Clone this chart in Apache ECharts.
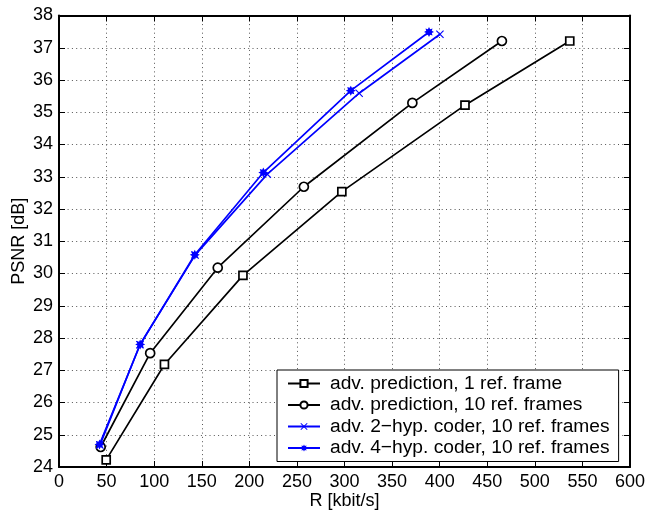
<!DOCTYPE html>
<html>
<head>
<meta charset="utf-8">
<script src="https://cdn.jsdelivr.net/npm/echarts@6/dist/echarts.min.js"></script>
<style>
  html, body { margin: 0; padding: 0; background: #fff; }
  #chart { width: 661px; height: 512px; }
</style>
</head>
<body>
<div id="chart"></div>
<script>
// Rate-distortion curves: PSNR versus bit rate
const seriesNames = [
  'adv. prediction, 1 ref. frame',
  'adv. prediction, 10 ref. frames',
  'adv. 2\u2212hyp. coder, 10 ref. frames',
  'adv. 4\u2212hyp. coder, 10 ref. frames'
];

const rate1Ref = [49.6, 110.8, 193.3, 297.2, 426.6, 536.7];
const psnr1Ref = [24.22, 27.18, 29.94, 32.54, 35.22, 37.21];

const rate10Ref = [43.8, 95.8, 166.8, 257.3, 371.3, 465.4];
const psnr10Ref = [24.62, 27.53, 30.18, 32.69, 35.29, 37.21];

const rate2Hyp = [43.0, 85.0, 143.0, 218.9, 315.4, 400.3];
const psnr2Hyp = [24.68, 27.79, 30.57, 33.08, 35.59, 37.42];

const rate4Hyp = [42.6, 85.3, 142.7, 214.7, 306.6, 388.8];
const psnr4Hyp = [24.70, 27.80, 30.58, 33.13, 35.67, 37.49];

const xTicks = { min: 0, max: 600, interval: 50 };
const yTicks = { min: 24, max: 38, interval: 1 };

const pairs = (xs, ys) => xs.map((x, i) => [x, ys[i]]);

const FONT = '"Liberation Sans", Arial, Helvetica, sans-serif';
const BLUE = '#0000ff';
const BLACK = '#000000';

const crossPath = 'path://M0,1L1,0L5,4L9,0L10,1L6,5L10,9L9,10L5,6L1,10L0,9L4,5Z';
const starPath = 'path://M10,5L7.77,6.15L8.54,8.54L6.15,7.77L5,10L3.85,7.77L1.46,8.54L2.23,6.15L0,5L2.23,3.85L1.46,1.46L3.85,2.23L5,0L6.15,2.23L8.54,1.46L7.77,3.85Z';

const gridLine = { show: true, lineStyle: { color: '#555', width: 1, type: [1, 3.3] } };
const frameLine = { show: true, onZero: false, lineStyle: { color: BLACK, width: 2 } };
const innerTick = { show: true, inside: true, length: 6, lineStyle: { color: BLACK, width: 1 } };

function makeSeries(name, data, color, symbol, size, hollow) {
  return {
    name: name,
    type: 'line',
    data: data,
    symbol: symbol,
    symbolSize: size,
    showSymbol: true,
    lineStyle: { color: color, width: 1.7 },
    itemStyle: hollow
      ? { color: '#ffffff', borderColor: color, borderWidth: 1.7 }
      : { color: color, borderColor: color, borderWidth: 0 },
    animation: false,
    z: 3
  };
}

const chart = echarts.init(document.getElementById('chart'), null, { renderer: 'canvas' });

chart.setOption({
  backgroundColor: '#ffffff',
  animation: false,
  grid: {
    left: 59, right: 31, top: 15.5, bottom: 45,
    containLabel: false,
    outerBoundsMode: 'none'
  },
  xAxis: [
    {
      type: 'value',
      min: xTicks.min, max: xTicks.max, interval: xTicks.interval,
      name: 'R [kbit/s]',
      nameLocation: 'middle',
      nameGap: 25,
      nameMoveOverlap: false,
      nameTextStyle: { fontFamily: FONT, fontSize: 18, color: BLACK },
      axisLine: frameLine,
      axisTick: innerTick,
      axisLabel: { fontFamily: FONT, fontSize: 18, color: BLACK, margin: 6 },
      splitLine: gridLine
    },
    {
      type: 'value', position: 'top',
      min: xTicks.min, max: xTicks.max, interval: xTicks.interval,
      axisLine: frameLine, axisTick: innerTick,
      axisLabel: { show: false }, splitLine: { show: false }
    }
  ],
  yAxis: [
    {
      type: 'value',
      min: yTicks.min, max: yTicks.max, interval: yTicks.interval,
      name: 'PSNR [dB]',
      nameLocation: 'middle',
      nameGap: 31,
      nameMoveOverlap: false,
      nameRotate: 90,
      nameTextStyle: { fontFamily: FONT, fontSize: 18, color: BLACK },
      axisLine: frameLine,
      axisTick: innerTick,
      axisLabel: { fontFamily: FONT, fontSize: 18, color: BLACK, margin: 6 },
      splitLine: gridLine
    },
    {
      type: 'value', position: 'right',
      min: yTicks.min, max: yTicks.max, interval: yTicks.interval,
      axisLine: frameLine, axisTick: innerTick,
      axisLabel: { show: false }, splitLine: { show: false }
    }
  ],
  legend: {
    orient: 'vertical',
    left: 277,
    top: 370,
    padding: [4, 9, 4, 10],
    itemWidth: 32,
    itemHeight: 9,
    itemGap: 2.5,
    backgroundColor: '#ffffff',
    borderColor: BLACK,
    borderWidth: 1,
    borderRadius: 0,
    textStyle: { fontFamily: FONT, fontSize: 19.2, color: BLACK, padding: [0, 0, 0, 5] },
    data: seriesNames
  },
  series: [
    makeSeries(seriesNames[0], pairs(rate1Ref, psnr1Ref), BLACK, 'rect', 8, true),
    makeSeries(seriesNames[1], pairs(rate10Ref, psnr10Ref), BLACK, 'circle', 9, true),
    makeSeries(seriesNames[2], pairs(rate2Hyp, psnr2Hyp), BLUE, crossPath, 8, false),
    makeSeries(seriesNames[3], pairs(rate4Hyp, psnr4Hyp), BLUE, starPath, 10, false)
  ]
});
</script>
</body>
</html>
